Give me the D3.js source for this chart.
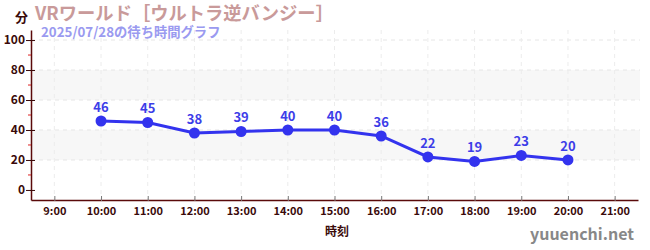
<!DOCTYPE html>
<html>
<head>
<meta charset="utf-8">
<script src="https://cdn.jsdelivr.net/npm/d3@7"></script>
<style>
  body { margin: 0; background: #fff; }
  text { font-family: "Noto Sans CJK JP", "Noto Sans", sans-serif; }
</style>
</head>
<body>
<svg id="chart" width="650" height="250"></svg>
<script>
"use strict";

// hours of the day and waiting minutes
var hours = [10, 11, 12, 13, 14, 15, 16, 17, 18, 19, 20];
var waits = [46, 45, 38, 39, 40, 40, 36, 22, 19, 23, 20];
var hourTicks = [9, 10, 11, 12, 13, 14, 15, 16, 17, 18, 19, 20, 21];
var yTicks = [0, 20, 40, 60, 80, 100];
var yMinor = [10, 30, 50, 70, 90];
var bands = [[20, 40], [60, 80]];

var svg = d3.select('#chart');
var pLeft = 31, pRight = 638, pTop = 30, pBottom = 200;

var x = d3.scaleLinear().domain([8.5, 21.5]).range([pLeft, pRight]);
var y = d3.scaleLinear().domain([-6.7, 106.7]).range([pBottom, pTop]);

// *** grey bands ***
svg.selectAll('rect.band')
	.data(bands).enter()
	.append('rect')
		.attr('class', 'band')
		.attr('x', pLeft)
		.attr('width', pRight - pLeft + 2)
		.attr('y', function(d){ return y(d[1]); })
		.attr('height', function(d){ return y(d[0]) - y(d[1]); })
		.attr('fill', '#f7f7f7');

// *** dashed grid ***
svg.selectAll('line.hgrid')
	.data(yTicks.slice(1)).enter()
	.append('line')
		.attr('x1', pLeft).attr('x2', pRight + 2)
		.attr('y1', function(d){ return y(d); })
		.attr('y2', function(d){ return y(d); })
		.attr('stroke', '#e6e6e6')
		.attr('stroke-dasharray', '4,4');
svg.selectAll('line.vgrid')
	.data(hourTicks).enter()
	.append('line')
		.attr('x1', function(d){ return x(d); })
		.attr('x2', function(d){ return x(d); })
		.attr('y1', pTop).attr('y2', pBottom)
		.attr('stroke', '#ececec')
		.attr('stroke-dasharray', '4,4');

// *** y axis ***
var yAxis = svg.append('g')
	.attr('transform', 'translate(' + pLeft + ',0)')
	.call(d3.axisLeft(y).tickValues(yTicks).tickSize(5).tickSizeOuter(0));
yAxis.select('.domain').attr('stroke', '#5a0a0a').attr('stroke-width', 1.5);
yAxis.selectAll('.tick line').attr('stroke', '#3a0a0a').attr('x2', 4).attr('x1', -5);
yAxis.selectAll('.tick text')
	.attr('fill', '#3a0a0a').attr('font-size', 12).attr('font-weight', 'bold').attr('x', -6);
svg.selectAll('line.minor')
	.data(yMinor).enter()
	.append('line')
		.attr('x1', pLeft - 3).attr('x2', pLeft)
		.attr('y1', function(d){ return y(d); })
		.attr('y2', function(d){ return y(d); })
		.attr('stroke', '#dd2222');

// *** x axis ***
var xAxis = svg.append('g')
	.attr('transform', 'translate(0,' + pBottom + ')')
	.call(d3.axisBottom(x).tickValues(hourTicks).tickSize(4).tickSizeOuter(0)
		.tickFormat(function(d){ return d + ':00'; }));
xAxis.select('.domain').attr('stroke', '#5a0a0a').attr('stroke-width', 1.5);
xAxis.selectAll('.tick line').attr('stroke', '#777').attr('y1', -4).attr('y2', 1);
xAxis.selectAll('.tick text')
	.attr('fill', '#3a0a0a').attr('font-size', 11).attr('font-weight', 'bold').attr('y', 7);

// *** line and points ***
var pts = hours.map(function(h, i){ return [h, waits[i]]; });
svg.append('path')
	.datum(pts)
	.attr('fill', 'none')
	.attr('stroke', '#3333ee')
	.attr('stroke-width', 3)
	.attr('d', d3.line().x(function(d){ return x(d[0]); }).y(function(d){ return y(d[1]); }));
svg.selectAll('circle.pt')
	.data(pts).enter()
	.append('circle')
		.attr('cx', function(d){ return x(d[0]); })
		.attr('cy', function(d){ return y(d[1]); })
		.attr('r', 5.5)
		.attr('fill', '#3333ee');
svg.selectAll('text.val')
	.data(pts).enter()
	.append('text')
		.attr('x', function(d){ return x(d[0]); })
		.attr('y', function(d){ return y(d[1]) - 9; })
		.attr('text-anchor', 'middle')
		.attr('font-size', 13)
		.attr('font-weight', 'bold')
		.attr('fill', '#3d3de8')
		.text(function(d){ return d[1]; });

// *** titles ***
svg.append('text').text('分')
	.attr('x', 15).attr('y', 22)
	.attr('font-size', 13).attr('font-weight', 'bold').attr('fill', '#3a0a0a');
svg.append('text').text('VRワールド［ウルトラ逆バンジー］')
	.attr('x', 35).attr('y', 20)
	.attr('font-size', 18.3).attr('font-weight', 'bold').attr('fill', '#c99a9a');
svg.append('text').text('2025/07/28の待ち時間グラフ')
	.attr('x', 41).attr('y', 37)
	.attr('font-size', 13.3).attr('font-weight', 'bold').attr('fill', '#9a9af0');
svg.append('text').text('時刻')
	.attr('x', 337).attr('y', 236).attr('text-anchor', 'middle')
	.attr('font-size', 12).attr('font-weight', 'bold').attr('fill', '#3a0a0a');
svg.append('text').text('yuuenchi.net')
	.attr('x', 634).attr('y', 240).attr('text-anchor', 'end')
	.attr('font-size', 16).attr('font-weight', 'bold').attr('fill', '#888');
</script>
</body>
</html>
